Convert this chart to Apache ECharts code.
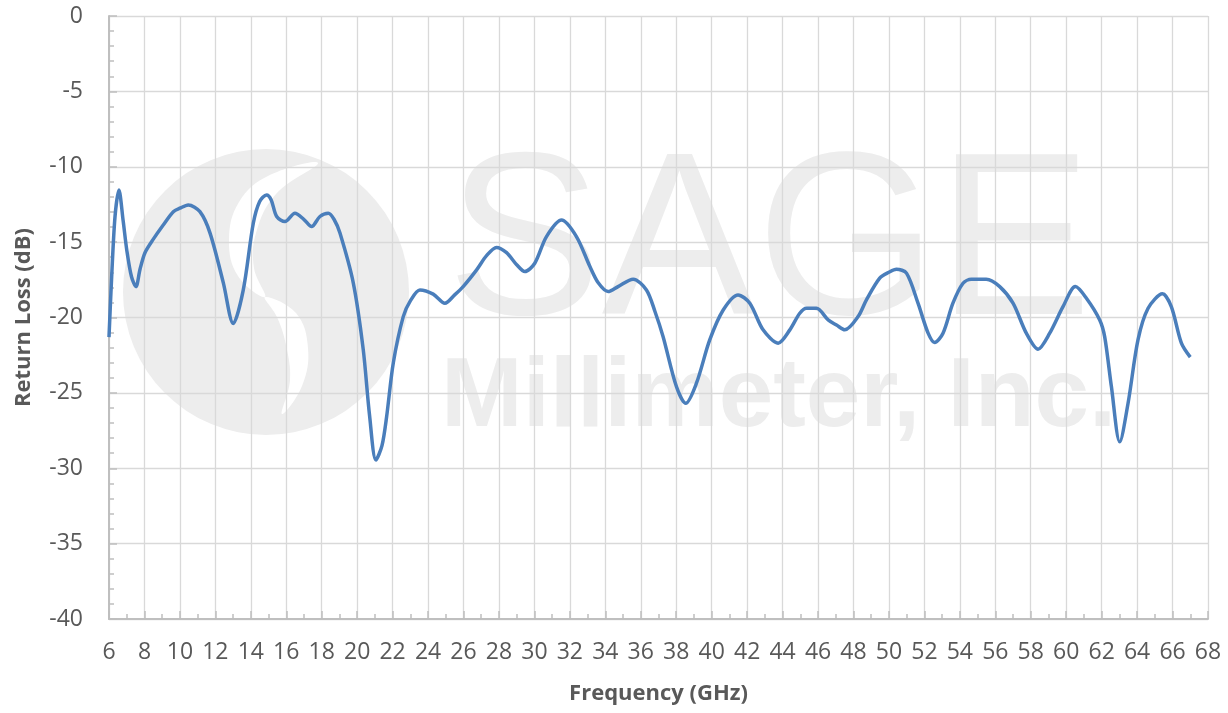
<!DOCTYPE html>
<html>
<head>
<meta charset="utf-8">
<script src="https://cdn.jsdelivr.net/npm/echarts@6/dist/echarts.min.js"></script>
<style>
html,body{margin:0;padding:0;background:#fff;}
#chart{width:1228px;height:713px;}
</style>
</head>
<body>
<div id="chart"></div>
<script>
// Frequency (GHz)
const freq = [6.0,6.15,6.34,6.56,6.8,7.0,7.27,7.52,7.75,8.03,8.5,9.06,9.63,10.0,10.47,11.13,11.7,12.45,13.01,13.57,14.14,14.5,14.89,15.15,15.46,15.93,16.49,17.0,17.43,17.9,18.37,18.7,19.03,19.78,20.34,20.7,21.06,21.4,21.66,22.04,22.6,23.0,23.54,24.29,24.95,25.5,25.98,26.74,27.3,27.86,28.43,29.0,29.46,30.02,30.68,31.53,32.37,33.13,33.6,34.16,34.72,35.57,36.32,36.8,37.26,38.01,38.54,39.14,39.89,40.65,41.49,42.15,42.9,43.75,44.41,44.97,45.35,45.91,46.57,47.04,47.51,48.26,48.73,49.48,50.0,50.42,50.99,51.64,52.21,52.58,53.05,53.61,54.18,54.65,55.49,56.25,57.0,57.75,58.41,59.07,59.82,60.52,61.14,61.89,62.17,62.55,63.02,63.49,64.05,64.62,65.43,65.93,66.5,67.0];
// Return loss (dB)
const returnLoss = [-21.3,-17.3,-13.3,-11.55,-13.6,-15.5,-17.3,-17.95,-16.8,-15.7,-14.8,-13.86,-12.98,-12.75,-12.53,-12.98,-14.4,-17.7,-20.4,-18.2,-13.75,-12.3,-11.87,-12.2,-13.3,-13.64,-13.09,-13.5,-13.97,-13.3,-13.09,-13.5,-14.4,-17.7,-22.1,-26.5,-29.45,-28.5,-26.6,-23.0,-19.94,-18.9,-18.17,-18.45,-19.05,-18.5,-17.95,-16.84,-15.9,-15.35,-15.7,-16.5,-16.95,-16.4,-14.63,-13.53,-14.63,-16.62,-17.7,-18.28,-17.95,-17.46,-18.17,-19.6,-21.27,-24.58,-25.69,-24.36,-21.49,-19.5,-18.5,-19.05,-20.82,-21.7,-20.82,-19.72,-19.39,-19.39,-20.16,-20.5,-20.82,-19.94,-18.83,-17.39,-17.0,-16.8,-17.06,-19.05,-21.04,-21.66,-21.04,-19.05,-17.73,-17.46,-17.46,-17.95,-19.05,-21.04,-22.1,-21.04,-19.28,-17.95,-18.72,-20.16,-21.27,-24.58,-28.25,-25.69,-21.49,-19.39,-18.43,-19.28,-21.7,-22.63];

const xTitle = 'Frequency (GHz)';
const yTitle = 'Return Loss (dB)';
const wmTitle = 'SAGE';
const wmSub = 'Millimeter, Inc.';

const chart = echarts.init(document.getElementById('chart'), null, {renderer:'canvas'});
const font = '"Open Sans", "Liberation Sans", sans-serif';
const wmColor = '#ededed';

const option = {
  backgroundColor: '#ffffff',
  animation: false,
  graphic: [
    { type:'circle', z:-10, shape:{cx:266, cy:292, r:143}, style:{fill:wmColor} },
    { type:'polygon', z:-9, shape:{smooth:0.4, points:[[318,163],[268,176],[239,202],[229,240],[238,276],[265,297],[254,268],[256,233],[276,194]]}, style:{fill:'#ffffff'} },
    { type:'polygon', z:-9, shape:{smooth:0.4, points:[[265,297],[296,313],[308,348],[302,386],[282,414],[290,380],[286,345],[277,317]]}, style:{fill:'#ffffff'} },
    { type:'text', z:-10, left:447, top:134, style:{text:wmTitle, font:'normal 232px "Liberation Sans", sans-serif', fill:wmColor} },
    { type:'text', z:-10, left:441, top:350, style:{text:wmSub, font:'bold 98px "Liberation Sans", sans-serif', fill:wmColor} }
  ],
  grid: { left:109, right:20, top:16, bottom:94, containLabel:false },
  xAxis: {
    type:'value', min:6, max:68, interval:2,
    name: xTitle, nameLocation:'middle', nameGap:64,
    nameTextStyle:{ color:'#595959', fontFamily:font, fontWeight:'bold', fontSize:22 },
    axisLine:{ show:true, onZero:false, lineStyle:{ color:'#bfbfbf', width:2 } },
    axisTick:{ show:true, inside:true, length:8, lineStyle:{ color:'#bfbfbf', width:1.5 } },
    minorTick:{ show:true, splitNumber:2, length:5, lineStyle:{ color:'#bfbfbf', width:1.5 } },
    axisLabel:{ color:'#595959', fontFamily:font, fontSize:23, margin:22 },
    splitLine:{ show:true, lineStyle:{ color:'#d9d9d9', width:1.3 } }
  },
  yAxis: {
    type:'value', min:-40, max:0, interval:5,
    name: yTitle, nameLocation:'middle', nameGap:74, nameRotate:90,
    nameTextStyle:{ color:'#595959', fontFamily:font, fontWeight:'bold', fontSize:22 },
    axisLine:{ show:true, onZero:false, lineStyle:{ color:'#bfbfbf', width:2 } },
    axisTick:{ show:true, inside:true, length:8, lineStyle:{ color:'#bfbfbf', width:1.5 } },
    minorTick:{ show:true, splitNumber:5, length:5, lineStyle:{ color:'#bfbfbf', width:1.5 } },
    axisLabel:{ color:'#595959', fontFamily:font, fontSize:23, margin:26 },
    splitLine:{ show:true, lineStyle:{ color:'#d9d9d9', width:1.3 } }
  },
  series: [{
    type:'line',
    data: freq.map((f,i)=>[f, returnLoss[i]]),
    smooth:0.3,
    showSymbol:false,
    lineStyle:{ color:'#4a7ebb', width:3.5 },
    z:5
  }]
};
chart.setOption(option);
</script>
</body>
</html>
